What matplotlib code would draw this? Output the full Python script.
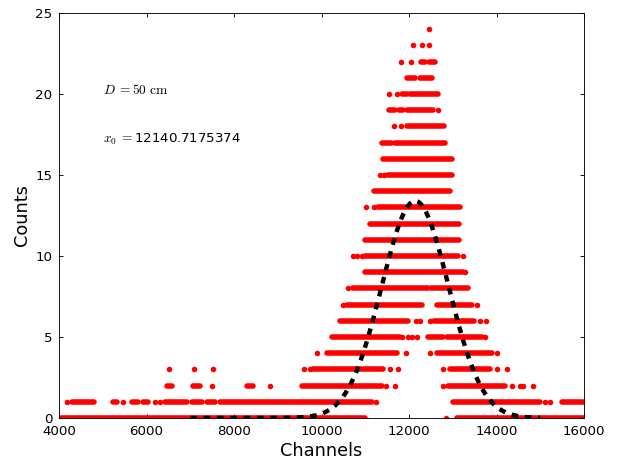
import matplotlib
matplotlib.use('Agg')
import matplotlib.pyplot as plt
import numpy as np

plt.rcParams['mathtext.fontset'] = 'cm'
plt.rcParams['lines.scale_dashes'] = False

# counts levels and, for each level, channel ranges where points sit densely
counts = list(range(25))
dense_spans = [
    [(4000, 10990), (13100, 16000)],
    [(4290, 4810), (5230, 5330), (5670, 5810), (5920, 6030), (6420, 6930), (7040, 7270),
     (7380, 7570), (7680, 11150), (13010, 15000), (15500, 15980)],
    [(6470, 6580), (7060, 7220), (8300, 8430), (9550, 11380), (12890, 14200)],
    [(9800, 11410), (12940, 13850)],
    [(10130, 11730), (12640, 13900)],
    [(10240, 11790), (12430, 12780), (12870, 13670)],
    [(10420, 11980), (12570, 13480)],
    [(10580, 12300), (12640, 13440)],
    [(10720, 12430), (12500, 13340)],
    [(10990, 13230)],
    [(10990, 13120)],
    [(11000, 13150)],
    [(11110, 13150)],
    [(11290, 13160)],
    [(11210, 12940)],
    [(11520, 12980)],
    [(11400, 12980)],
    [(11380, 11590), (11680, 12830)],
    [(11950, 12810)],
    [(11540, 11680), (11770, 11860), (11950, 12550)],
    [(11840, 11950), (12020, 12660)],
    [(11950, 12140), (12250, 12530)],
    [(12270, 12370), (12460, 12590)],
    [],
    [],
]
lone_channels = [
    [12850],
    [4190, 5460, 6190, 6310, 11240, 15100, 15220],
    [7500, 8820, 11470, 11680, 12780, 14350, 14540, 14610, 14830],
    [6510, 7090, 7520, 9600, 9740, 11570, 11750, 12780, 14010, 14240],
    [9900, 11930, 12480, 14010],
    [11840, 11980, 12070, 12180, 13740],
    [12170, 12250, 12480, 13620, 13770],
    [10490, 13550],
    [10610],
    [13280],
    [10720, 10820, 10920, 13230],
    [],
    [],
    [11020, 11200],
    [],
    [11340, 11430],
    [],
    [],
    [11660, 11810],
    [12660],
    [11540, 11730],
    [],
    [11820, 12050],
    [12090, 12300, 12460],
    [12460],
]

# gaussian fit
fit_amp = 13.4
fit_x0 = 12140.7175374
fit_sigma = 765.0
fit_range = (7000, 15000)

fig = plt.figure(figsize=(621 / 80, 465 / 80), dpi=80)
ax = fig.add_axes([59 / 621, 47 / 465, 525 / 621, 405 / 465])

msize = 5
for c, spans, lone in zip(counts, dense_spans, lone_channels):
    if spans:
        starts = [s for s, e in spans]
        ends = [e for s, e in spans]
        lc = ax.hlines([c] * len(spans), starts, ends, colors='red', linewidth=msize)
        lc.set_capstyle('round')
    if lone:
        ax.plot(lone, [c] * len(lone), 'o', color='red', markersize=msize,
                markeredgewidth=0)

xf = np.linspace(fit_range[0], fit_range[1], 400)
yf = fit_amp * np.exp(-(xf - fit_x0) ** 2 / (2 * fit_sigma ** 2))
ax.plot(xf, yf, color='black', linewidth=4, linestyle='--', dashes=(6, 6), zorder=5)

ax.text(5000, 20, r'$D\;{=}50\ \mathrm{cm}$', fontsize=12)
ax.text(5000, 17, r'$x_0\;{=}$' + '12140.7175374', fontsize=12)

ax.set_xlim(4000, 16000)
ax.set_ylim(0, 25)
ax.set_xticks(range(4000, 16001, 2000))
ax.set_yticks(range(0, 26, 5))
ax.tick_params(direction='in', top=True, right=True, length=4, labelsize=12, pad=6)
ax.set_xlabel('Channels', fontsize=16)
ax.set_ylabel('Counts', fontsize=16)

fig.savefig('out.png', dpi=80)
